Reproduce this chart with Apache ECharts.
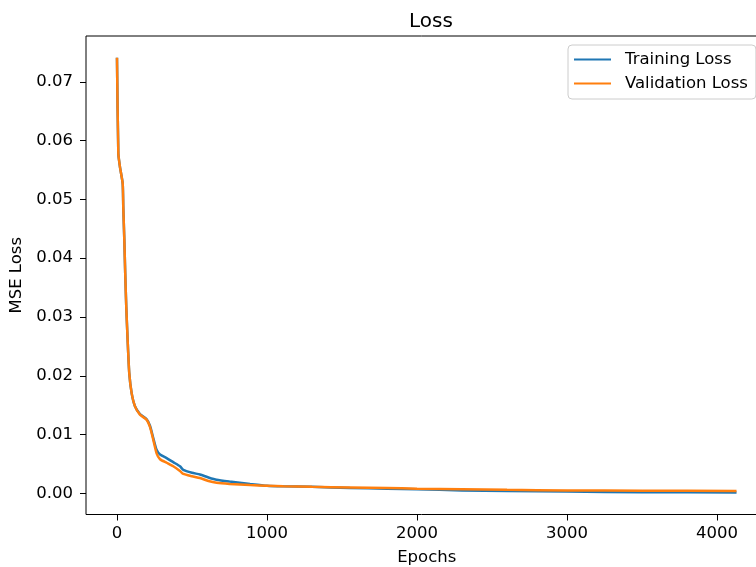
<!DOCTYPE html>
<html>
<head>
<meta charset="utf-8">
<script src="https://cdn.jsdelivr.net/npm/echarts@6/dist/echarts.min.js"></script>
<style>
  html, body { margin: 0; padding: 0; background: #fff; }
  #chart { width: 756px; height: 567px; }
</style>
</head>
<body>
<div id="chart"></div>
<script>
const epochs = [0, 9, 20, 38, 42, 49, 55, 62, 71, 82, 98, 120, 153, 198, 220, 242, 264, 287, 331, 375, 420, 442, 500, 553, 610, 664, 750, 887, 1000, 1109, 1300, 1553, 1800, 2000, 2300, 2600, 3000, 3500, 4130]
const trainLoss = [0.0741, 0.0578, 0.0555, 0.0527, 0.0487, 0.0431, 0.0374, 0.0317, 0.0261, 0.0204, 0.0170, 0.0148, 0.0135, 0.0126, 0.0115, 0.0094, 0.0074, 0.0066, 0.0060, 0.0053, 0.0046, 0.0040, 0.0035, 0.0032, 0.0027, 0.0023, 0.0020, 0.0016, 0.0013, 0.0012, 0.0011, 0.0009, 0.0008, 0.0007, 0.0005, 0.0004, 0.0003, 0.0002, 0.00015]
const valLoss = [0.0741, 0.0578, 0.0555, 0.0527, 0.0487, 0.0431, 0.0374, 0.0317, 0.0261, 0.0204, 0.0170, 0.0148, 0.0134, 0.0125, 0.0113, 0.0091, 0.0068, 0.0058, 0.0052, 0.0046, 0.0038, 0.0033, 0.0029, 0.0026, 0.0021, 0.0018, 0.0016, 0.0014, 0.0013, 0.0012, 0.0011, 0.0010, 0.0009, 0.0008, 0.0007, 0.0006, 0.0005, 0.00045, 0.0004]
const xTicks = [0, 1000, 2000, 3000, 4000]
const yTicks = [0, 0.01, 0.02, 0.03, 0.04, 0.05, 0.06, 0.07]

const font = 'DejaVu Sans'
const chart = echarts.init(document.getElementById('chart'))

function pairs(ys) {
  return epochs.map((e, i) => [e, ys[i]])
}

chart.setOption({
  animation: false,
  textStyle: { fontFamily: font },
  title: {
    text: 'Loss',
    left: 426,
    top: 7,
    textAlign: 'center',
    textStyle: { fontFamily: font, fontSize: 20, fontWeight: 'normal', color: '#000' }
  },
  legend: {
    orient: 'vertical',
    left: 568,
    top: 45,
    padding: [6, 8, 7, 5],
    itemWidth: 37,
    itemHeight: 14,
    itemGap: 7,
    itemStyle: { opacity: 0 },
    borderColor: '#cccccc',
    borderWidth: 1,
    borderRadius: 4,
    backgroundColor: 'rgba(255,255,255,0.8)',
    textStyle: { fontFamily: font, fontSize: 16.5, color: '#000', padding: [0, 0, 0, 9] },
    data: ['Training Loss', 'Validation Loss']
  },
  grid: {
    left: 86,
    top: 36,
    width: 681.5,
    height: 478.5,
    outerBoundsMode: 'none',
    show: true,
    borderColor: '#000',
    borderWidth: 1,
    backgroundColor: 'transparent'
  },
  xAxis: {
    type: 'value',
    min: -206.5,
    max: 4336.5,
    name: 'Epochs',
    nameLocation: 'middle',
    nameGap: 35,
    nameTextStyle: { fontFamily: font, fontSize: 16.5, color: '#000' },
    axisLine: { show: false, onZero: false },
    splitLine: { show: false },
    axisTick: { show: true, length: 6, lineStyle: { color: '#000', width: 1 }, customValues: xTicks },
    axisLabel: { fontFamily: font, fontSize: 16.5, color: '#000', margin: 11, customValues: xTicks, formatter: v => String(v) }
  },
  yAxis: {
    type: 'value',
    min: -0.0036,
    max: 0.0778,
    name: 'MSE Loss',
    nameLocation: 'middle',
    nameGap: 57,
    nameTextStyle: { fontFamily: font, fontSize: 16.5, color: '#000' },
    axisLine: { show: false, onZero: false },
    splitLine: { show: false },
    axisTick: { show: true, length: 6, lineStyle: { color: '#000', width: 1 }, customValues: yTicks },
    axisLabel: {
      fontFamily: font, fontSize: 16.5, color: '#000', margin: 13,
      customValues: yTicks,
      formatter: v => v.toFixed(2)
    }
  },
  series: [
    {
      name: 'Training Loss',
      type: 'line',
      data: pairs(trainLoss),
      symbol: 'none',
      smooth: 0.2,
      lineStyle: { color: '#1f77b4', width: 2.5 },
      itemStyle: { color: '#1f77b4' }
    },
    {
      name: 'Validation Loss',
      type: 'line',
      data: pairs(valLoss),
      symbol: 'none',
      smooth: 0.2,
      lineStyle: { color: '#ff7f0e', width: 2.5 },
      itemStyle: { color: '#ff7f0e' }
    }
  ]
})
</script>
</body>
</html>
